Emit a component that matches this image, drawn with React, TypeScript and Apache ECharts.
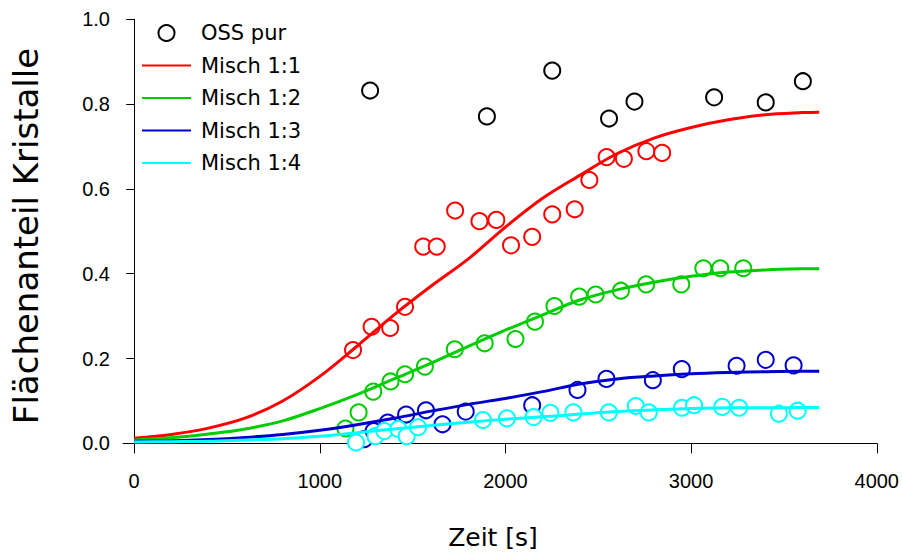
import React, { useEffect, useRef } from "react";
import * as echarts from "echarts";

// ---- data ----
const xTickValues = [0, 1000, 2000, 3000, 4000];
const yTickValues = [0, 0.2, 0.4, 0.6, 0.8, 1.0];

// OSS pur (black circles)
const ossT = [1271, 1900, 2252, 2558, 2695, 3124, 3402, 3602];
const ossV = [0.832, 0.771, 0.879, 0.766, 0.806, 0.816, 0.804, 0.854];

// Misch 1:1 measured points (red)
const m11T = [1179, 1279, 1379, 1459, 1557, 1630, 1729, 1860, 1951, 2030, 2144, 2252, 2373, 2452, 2545, 2638, 2759, 2844];
const m11V = [0.22, 0.275, 0.272, 0.322, 0.464, 0.464, 0.549, 0.524, 0.527, 0.467, 0.487, 0.54, 0.552, 0.621, 0.675, 0.671, 0.689, 0.685];

// Misch 1:2 measured points (green)
const m12T = [1138, 1209, 1288, 1381, 1459, 1566, 1727, 1888, 2054, 2159, 2264, 2397, 2486, 2622, 2758, 2947, 3066, 3157, 3281];
const m12V = [0.035, 0.073, 0.122, 0.146, 0.163, 0.181, 0.222, 0.236, 0.246, 0.287, 0.324, 0.346, 0.351, 0.36, 0.375, 0.375, 0.413, 0.413, 0.413];

// Misch 1:3 measured points (blue)
const m13T = [1239, 1290, 1366, 1465, 1572, 1661, 1786, 2144, 2388, 2544, 2794, 2950, 3245, 3402, 3552];
const m13V = [0.01, 0.029, 0.049, 0.068, 0.078, 0.045, 0.075, 0.09, 0.126, 0.152, 0.149, 0.175, 0.183, 0.197, 0.184];

// Misch 1:4 measured points (cyan)
const m14T = [1195, 1300, 1348, 1423, 1468, 1529, 1879, 2008, 2152, 2242, 2366, 2557, 2702, 2772, 2951, 3016, 3168, 3259, 3473, 3574];
const m14V = [0.002, 0.017, 0.029, 0.034, 0.017, 0.038, 0.055, 0.059, 0.062, 0.072, 0.073, 0.073, 0.088, 0.073, 0.084, 0.09, 0.086, 0.084, 0.07, 0.077];

// fitted curves
const curveT = [0, 200, 400, 600, 800, 1000, 1200, 1400, 1600, 1800, 2000, 2200, 2400, 2600, 2800, 3000, 3200, 3400, 3600, 3690];
const fit11 = [0.012, 0.021, 0.036, 0.06, 0.1, 0.158, 0.229, 0.303, 0.371, 0.435, 0.51, 0.578, 0.632, 0.683, 0.72, 0.745, 0.763, 0.775, 0.78, 0.781];
const fit12 = [0.008, 0.013, 0.022, 0.034, 0.053, 0.082, 0.115, 0.152, 0.189, 0.229, 0.267, 0.303, 0.338, 0.362, 0.38, 0.394, 0.404, 0.409, 0.412, 0.412];
const fit13 = [0.005, 0.006, 0.009, 0.014, 0.021, 0.031, 0.044, 0.059, 0.076, 0.092, 0.106, 0.122, 0.14, 0.152, 0.159, 0.164, 0.167, 0.169, 0.17, 0.17];
const fit14 = [0.003, 0.004, 0.005, 0.008, 0.011, 0.017, 0.025, 0.034, 0.042, 0.05, 0.057, 0.063, 0.069, 0.075, 0.079, 0.082, 0.084, 0.084, 0.0845, 0.0845];

const seriesNames = ["OSS pur", "Misch 1:1", "Misch 1:2", "Misch 1:3", "Misch 1:4"];
const colors = ["#000000", "#ff0000", "#00cd00", "#0000cd", "#00ffff"];

const zip = (a: number[], b: number[]) => a.map((v, i) => [v, b[i]]);

export default function App() {
  const ref = useRef<HTMLDivElement>(null);
  useEffect(() => {
    if (!ref.current) return;
    const chart = echarts.init(ref.current, undefined, { renderer: "svg" });
    const fontFam = '"DejaVu Sans", sans-serif';
    const tickFont = '"Liberation Sans", Arial, sans-serif';

    const scatter = (name: string, t: number[], v: number[], color: string) => ({
      name,
      type: "scatter",
      data: zip(t, v),
      symbol: "emptyCircle",
      symbolSize: 16,
      itemStyle: { color, borderColor: color, borderWidth: 1.2, opacity: 1 },
      z: 2,
      silent: true,
    });
    const line = (name: string, v: number[], color: string) => ({
      name,
      type: "line",
      data: zip(curveT, v),
      symbol: "none",
      smooth: 0.35,
      lineStyle: { color, width: 3 },
      itemStyle: { color },
      z: 3,
      silent: true,
    });

    const option: any = {
      animation: false,
      backgroundColor: "#ffffff",
      grid: { left: 123, right: 21, top: 19.3, bottom: 101.3, containLabel: false },
      xAxis: {
        type: "value",
        min: -60,
        max: 4000,
        axisLine: { show: true, lineStyle: { color: "#000", width: 1 } },
        axisTick: { show: true, length: 10, customValues: xTickValues, lineStyle: { color: "#000" } },
        axisLabel: {
          customValues: xTickValues,
          margin: 18,
          fontSize: 20,
          fontFamily: tickFont,
          color: "#000",
          formatter: (v: number) => String(v),
        },
        splitLine: { show: false },
      },
      yAxis: {
        type: "value",
        min: -0.022,
        max: 1.0,
        axisLine: { show: true, lineStyle: { color: "#000", width: 1 } },
        axisTick: { show: true, length: 8, customValues: yTickValues, lineStyle: { color: "#000" } },
        axisLabel: {
          customValues: yTickValues,
          margin: 13,
          fontSize: 20,
          fontFamily: tickFont,
          color: "#000",
          formatter: (v: number) => v.toFixed(1),
        },
        splitLine: { show: false },
      },
      legend: {
        data: [
          { name: seriesNames[0] },
          { name: seriesNames[1], itemStyle: { opacity: 0 } },
          { name: seriesNames[2], itemStyle: { opacity: 0 } },
          { name: seriesNames[3], itemStyle: { opacity: 0 } },
          { name: seriesNames[4], itemStyle: { opacity: 0 } },
        ],
        orient: "vertical",
        left: 141,
        top: 22,
        padding: 0,
        itemWidth: 49,
        itemHeight: 16,
        itemGap: 10.5,
        selectedMode: false,
        textStyle: { fontSize: 21, fontFamily: fontFam, color: "#000", lineHeight: 22, padding: [0, 0, 0, 5] },
      },
      graphic: [
        {
          type: "text",
          x: 26,
          y: 236,
          rotation: Math.PI / 2,
          style: {
            text: "Flächenanteil Kristalle",
            fontSize: 34,
            fontFamily: fontFam,
            fill: "#000",
            align: "center",
            verticalAlign: "middle",
          },
        },
        {
          type: "text",
          x: 493,
          y: 537,
          style: {
            text: "Zeit [s]",
            fontSize: 25,
            fontFamily: fontFam,
            fill: "#000",
            align: "center",
            verticalAlign: "middle",
          },
        },
      ],
      series: [
        scatter(seriesNames[0], ossT, ossV, colors[0]),
        scatter("Misch 1:1 Messung", m11T, m11V, colors[1]),
        scatter("Misch 1:2 Messung", m12T, m12V, colors[2]),
        scatter("Misch 1:3 Messung", m13T, m13V, colors[3]),
        scatter("Misch 1:4 Messung", m14T, m14V, colors[4]),
        line(seriesNames[1], fit11, colors[1]),
        line(seriesNames[2], fit12, colors[2]),
        line(seriesNames[3], fit13, colors[3]),
        line(seriesNames[4], fit14, colors[4]),
      ],
    };
    chart.setOption(option);
    return () => chart.dispose();
  }, []);
  return (
    <div
      ref={ref}
      style={{ position: "absolute", left: 0, top: 0, width: 902, height: 554, overflow: "hidden" }}
    />
  );
}
